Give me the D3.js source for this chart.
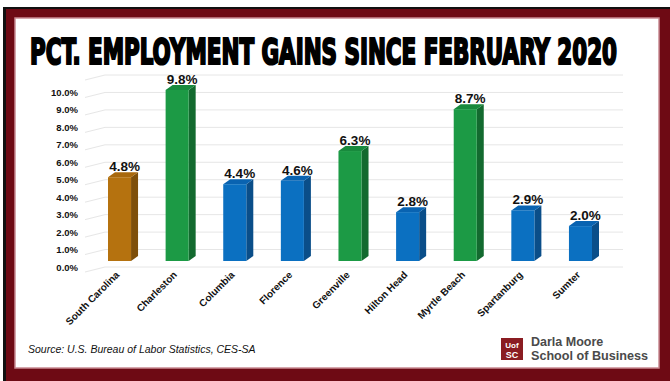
<!DOCTYPE html>
<html>
<head>
<meta charset="utf-8">
<script src="https://cdn.jsdelivr.net/npm/d3@7/dist/d3.min.js"></script>
<style>
  html, body { margin: 0; padding: 0; background: #fff; }
  svg { display: block; }
  text { font-family: "Liberation Sans", Arial, sans-serif; }
</style>
</head>
<body>
<svg id="chart" width="670" height="381"></svg>
<script>
// Employment gains since February 2020, by area
const categories = ["South Carolina", "Charleston", "Columbia", "Florence", "Greenville",
                    "Hilton Head", "Myrtle Beach", "Spartanburg", "Sumter"];
const gains = [4.8, 9.8, 4.4, 4.6, 6.3, 2.8, 8.7, 2.9, 2.0];
const groups = ["state", "up", "metro", "metro", "up", "metro", "up", "metro", "metro"];
const yTicks = [0, 1, 2, 3, 4, 5, 6, 7, 8, 9, 10];
const gridLevels = [0, 1, 2, 3, 4, 5, 6, 7, 8, 9, 10, 11];

const palette = {
  state: { front: "#b5720f", side: "#7e4f0a", top: "#a8680c" },
  up:    { front: "#1c9a45", side: "#136a2f", top: "#188a3d" },
  metro: { front: "#0b70c1", side: "#0a4e89", top: "#0963b1" }
};

const svg = d3.select("#chart");
const W = 670, H = 381;

// Frame: black shadow, maroon border, white panel
svg.append("rect").attr("x", 0).attr("y", 0).attr("width", W).attr("height", H).attr("fill", "#fff");
svg.append("rect").attr("x", 3).attr("y", 7).attr("width", W - 3).attr("height", H - 7).attr("fill", "#111");
svg.append("rect").attr("x", 6).attr("y", 9).attr("width", W - 6).attr("height", H - 9).attr("fill", "#6e0a14");
svg.append("rect").attr("x", 15).attr("y", 18).attr("width", 644).attr("height", 350)
  .attr("fill", "#fff").attr("stroke", "#c98a92").attr("stroke-width", 1.5);

// Title
svg.append("text")
  .attr("x", 30).attr("y", 64)
  .attr("textLength", 587).attr("lengthAdjust", "spacingAndGlyphs")
  .style("font-family", "'Liberation Sans Narrow', 'DejaVu Sans Condensed', sans-serif")
  .style("font-weight", "bold").style("font-size", "36px")
  .attr("fill", "#000").attr("stroke", "#000").attr("stroke-width", 2.2)
  .text("PCT. EMPLOYMENT GAINS SINCE FEBRUARY 2020");

// Scales
const y = d3.scaleLinear().domain([0, 11]).range([267, 75]);
const x = d3.scaleBand().domain(categories).range([108, 592]).paddingInner(0.6).paddingOuter(0);

const wallLeft = 105, wallRight = 623;
const sideDx = 20, sideDy = 5;     // perspective of the left side wall
const depthX = 7, depthY = 5;      // bar depth
const frontShift = 6;              // bar front plane offset above the wall

// Gridlines on back wall and left side wall
const grid = svg.append("g").attr("stroke", "#e6e6e6").attr("stroke-width", 1).attr("fill", "none");
gridLevels.forEach(v => {
  grid.append("line").attr("x1", wallLeft).attr("x2", wallRight).attr("y1", y(v)).attr("y2", y(v));
  grid.append("line").attr("x1", wallLeft - sideDx).attr("x2", wallLeft)
    .attr("y1", y(v) + sideDy).attr("y2", y(v));
});

// Y axis labels
const yAxis = d3.axisLeft(y).tickValues(yTicks).tickSize(0).tickPadding(0)
  .tickFormat(d => d3.format(".1f")(d) + "%");
svg.append("g").attr("transform", "translate(78,0)").call(yAxis)
  .call(g => g.select(".domain").remove())
  .call(g => g.selectAll("text")
    .style("font-family", "'Liberation Sans', Arial, sans-serif")
    .style("font-size", "9.5px").style("font-weight", "bold").attr("fill", "#111"));

// 3D bars
const bars = svg.append("g").selectAll("g").data(categories).join("g");
bars.each(function (c, i) {
  const g = d3.select(this);
  const col = palette[groups[i]];
  const x0 = x(c), x1 = x(c) + x.bandwidth();
  const yt = y(gains[i]) - frontShift, yb = y(0) - frontShift;
  // side face
  g.append("path").attr("fill", col.side)
    .attr("d", `M${x1},${yt} L${x1 + depthX},${yt - depthY} L${x1 + depthX},${yb - depthY} L${x1},${yb} Z`);
  // top face
  g.append("path").attr("fill", col.top)
    .attr("d", `M${x0},${yt} L${x0 + depthX},${yt - depthY} L${x1 + depthX},${yt - depthY} L${x1},${yt} Z`);
  // front face
  g.append("rect").attr("x", x0).attr("y", yt).attr("width", x.bandwidth()).attr("height", yb - yt)
    .attr("fill", col.front);
  // value label
  g.append("text")
    .attr("x", x0 + x.bandwidth() / 2 + 5).attr("y", yt - 6)
    .attr("text-anchor", "middle")
    .style("font-size", "13.5px").style("font-weight", "bold").attr("fill", "#111")
    .text(d3.format(".1f")(gains[i]) + "%");
});

// Category labels
svg.append("g").selectAll("text").data(categories).join("text")
  .attr("transform", d => `translate(${x(d) + x.bandwidth() / 2 - 2},${273}) rotate(-45)`)
  .attr("text-anchor", "end").attr("dy", "0.35em")
  .style("font-size", "10px").style("font-weight", "bold").attr("fill", "#111")
  .text(d => d);

// Source note
svg.append("text")
  .attr("x", 28).attr("y", 353)
  .style("font-size", "10.5px").style("font-style", "italic").attr("fill", "#111")
  .text("Source: U.S. Bureau of Labor Statistics, CES-SA");

// School mark
const logo = svg.append("g");
logo.append("rect").attr("x", 501).attr("y", 338).attr("width", 22).attr("height", 22).attr("fill", "#8a1c22");
logo.append("text").attr("x", 512).attr("y", 348).attr("text-anchor", "middle")
  .style("font-size", "8px").style("font-weight", "bold").attr("fill", "#fff").text("Uof");
logo.append("text").attr("x", 512).attr("y", 358).attr("text-anchor", "middle")
  .style("font-size", "9px").style("font-weight", "bold").attr("fill", "#fff").text("SC");
logo.append("text").attr("x", 531).attr("y", 346)
  .style("font-size", "12.5px").style("font-weight", "bold").attr("fill", "#4a4a4a").text("Darla Moore");
logo.append("text").attr("x", 531).attr("y", 359.5).attr("textLength", 117).attr("lengthAdjust", "spacingAndGlyphs")
  .style("font-size", "12.5px").style("font-weight", "bold").attr("fill", "#4a4a4a").text("School of Business");
</script>
</body>
</html>
